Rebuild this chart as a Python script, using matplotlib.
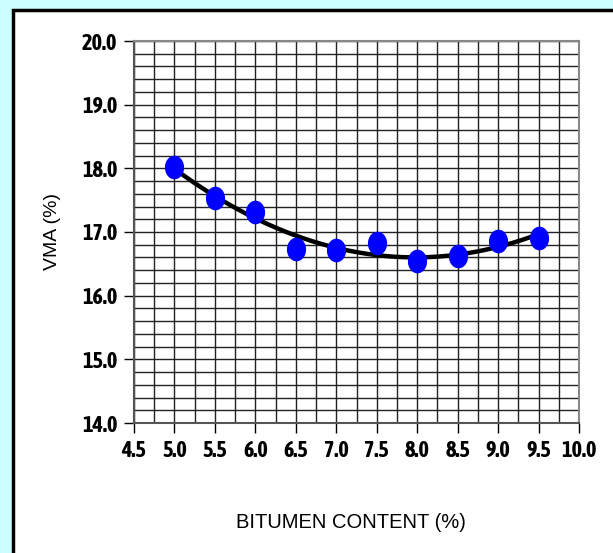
import numpy as np
import matplotlib
matplotlib.use('Agg')
import matplotlib.pyplot as plt
from matplotlib import font_manager
from matplotlib.path import Path
from matplotlib.patches import Rectangle

# bitumen content (%) and VMA (%)
bitumen = [5.0, 5.5, 6.0, 6.5, 7.0, 7.5, 8.0, 8.5, 9.0, 9.5]
vma = [18.02, 17.54, 17.32, 16.73, 16.72, 16.83, 16.54, 16.62, 16.86, 16.90]

x_ticks = [4.5, 5.0, 5.5, 6.0, 6.5, 7.0, 7.5, 8.0, 8.5, 9.0, 9.5, 10.0]
y_ticks = [14.0, 15.0, 16.0, 17.0, 18.0, 19.0, 20.0]

# look for a bold narrow face for the tick labels
bold_narrow = [f for f in font_manager.fontManager.ttflist
               if ('Narrow' in f.name or 'Condensed' in f.name)
               and f.weight in (700, 'bold') and f.style == 'normal']
bold_narrow.sort(key=lambda f: (0 if 'Liberation' in f.name else 1, f.name))
tick_font = None
if bold_narrow:
    tick_font = font_manager.FontProperties(fname=bold_narrow[0].fname, size=16)
else:
    tick_font = font_manager.FontProperties(family=['Liberation Sans', 'DejaVu Sans'],
                                            weight='bold', size=14)

plt.rcParams['font.family'] = ['Liberation Sans', 'DejaVu Sans']

fig = plt.figure(figsize=(6.13, 5.53), dpi=100)
fig.patch.set_facecolor('#CCFFFF')

# white panel with black frame
panel = Rectangle((12.5 / 613, -0.02), 1.1, 1 - 9.5 / 553 + 0.02,
                  transform=fig.transFigure, facecolor='white',
                  edgecolor='black', linewidth=2.5, zorder=-1)
fig.patches.append(panel)

ax = fig.add_axes([134 / 613, 1 - 423 / 553, 445 / 613, 382 / 553])
ax.set_zorder(1)
ax.set_xlim(4.5, 10.0)
ax.set_ylim(14.0, 20.0)

ax.set_xticks(x_ticks)
ax.set_xticklabels(['%.1f' % v for v in x_ticks])
ax.set_yticks(y_ticks)
ax.set_yticklabels(['%.1f' % v for v in y_ticks])
ax.set_xticks(np.arange(4.5, 10.01, 0.25), minor=True)
ax.set_yticks(np.arange(14.0, 20.01, 0.2), minor=True)
ax.tick_params(which='minor', length=0)
ax.tick_params(which='major', direction='out', length=7, width=1, color='black',
               pad=5)
for lab in ax.get_xticklabels() + ax.get_yticklabels():
    lab.set_fontproperties(tick_font)

ax.grid(which='both', color='#222222', linewidth=1.0)
ax.set_axisbelow(True)
for side in ['top', 'right']:
    ax.spines[side].set_color('#888888')
    ax.spines[side].set_linewidth(1.5)
for side in ['left', 'bottom']:
    ax.spines[side].set_color('#555555')
    ax.spines[side].set_linewidth(1.5)

# polynomial trend line
coef = np.polyfit(bitumen, vma, 2)
xs = np.linspace(bitumen[0], bitumen[-1], 200)
ax.plot(xs, np.polyval(coef, xs), color='black', linewidth=3.2, zorder=3)

# tall ellipse marker
t = np.linspace(0, 2 * np.pi, 60)
ellipse = Path(np.column_stack([0.8 * np.cos(t), np.sin(t)]), closed=True)
ax.plot(bitumen, vma, linestyle='none', marker=ellipse, markersize=16,
        color='#0000FF', markeredgecolor='#0000FF', zorder=4)

fig.text(52 / 613, 1 - 232 / 553, 'VMA (%)', fontsize=14, rotation=90,
         ha='center', va='center')
fig.text(351 / 613, 1 - 523 / 553, 'BITUMEN CONTENT (%)', fontsize=14.5,
         ha='center', va='center')

fig.savefig('out.png', dpi=100, facecolor=fig.get_facecolor())
